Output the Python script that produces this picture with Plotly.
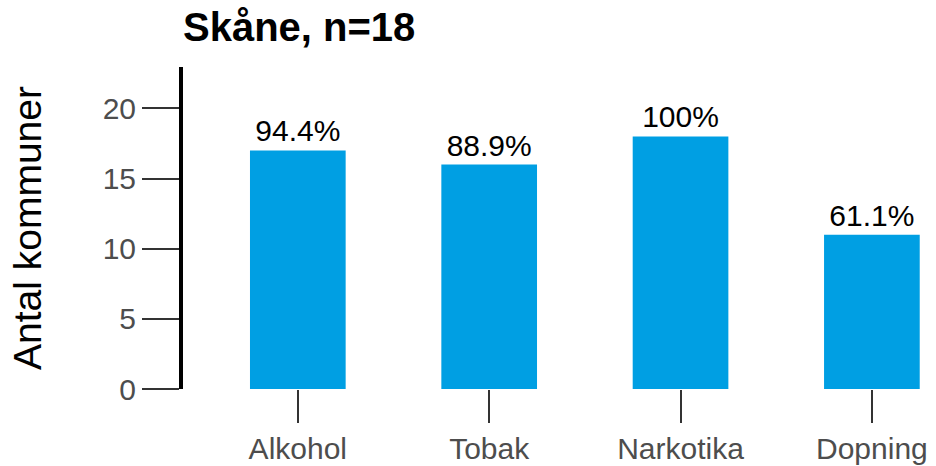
import plotly.graph_objects as go

categories = ["Alkohol", "Tobak", "Narkotika", "Dopning"]
counts = [17, 16, 18, 11]
n_total = 18
labels = [f"{round(c / n_total * 100, 1):g}%" for c in counts]
y_ticks = [0, 5, 10, 15, 20]

FONT = "Liberation Sans, Arial, sans-serif"

fig = go.Figure(
    go.Bar(
        x=categories,
        y=counts,
        text=labels,
        textposition="outside",
        textfont=dict(family=FONT, size=30, color="black"),
        marker=dict(color="#009fe3", line=dict(width=0)),
        width=0.5,
        cliponaxis=False,
    )
)

fig.update_layout(
    width=936,
    height=466,
    margin=dict(l=183, r=0, t=67, b=77),
    paper_bgcolor="white",
    plot_bgcolor="white",
    showlegend=False,
    title=dict(
        text="<b>Skåne, n=18</b>",
        font=dict(family=FONT, size=40, color="black"),
        x=183 / 936,
        xref="container",
        xanchor="left",
        y=1 - 27 / 466,
        yref="container",
        yanchor="middle",
    ),
)

fig.update_xaxes(
    range=[-0.6, 3.335],
    showline=False,
    showgrid=False,
    zeroline=False,
    automargin=False,
    ticks="outside",
    ticklen=33,
    tickwidth=2,
    tickcolor="#333333",
    tickfont=dict(family=FONT, size=30, color="#4d4d4d"),
)

fig.update_yaxes(
    range=[0, 22.95],
    tickvals=y_ticks,
    showline=True,
    linewidth=4,
    linecolor="black",
    showgrid=False,
    zeroline=False,
    automargin=False,
    ticks="outside",
    ticklen=37,
    tickwidth=2,
    tickcolor="#333333",
    tickfont=dict(family=FONT, size=30, color="#4d4d4d"),
    title=dict(text="Antal kommuner", font=dict(family=FONT, size=39, color="black"), standoff=50),
)

fig.write_html(
    "out.html",
    config={"displayModeBar": False},
    post_script="document.body.style.margin='0';",
)
